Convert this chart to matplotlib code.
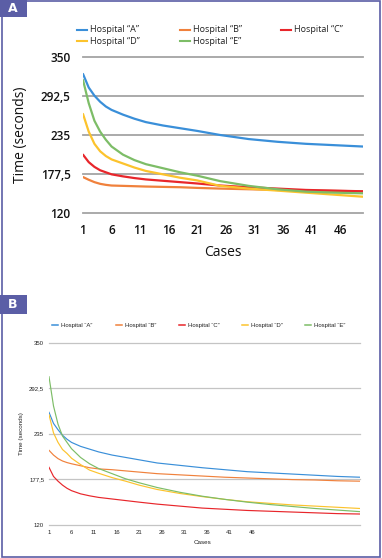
import numpy as np
import matplotlib
matplotlib.use('Agg')
import matplotlib.pyplot as plt
from matplotlib.patches import Rectangle
from matplotlib.lines import Line2D

W, H = 382, 558   # output size in pixels (dpi 100)

hospitals = ['Hospital “A”', 'Hospital “B”', 'Hospital “C”', 'Hospital “D”', 'Hospital “E”']
colors = ['#3a8fd9', '#f0813c', '#e8262b', '#fcc32d', '#7dbd67']

y_ticks = [120, 177.5, 235, 292.5, 350]
y_tick_labels = ['120', '177,5', '235', '292,5', '350']
x_ticks = [1, 6, 11, 16, 21, 26, 31, 36, 41, 46]

# panel A - time per case (seconds)
cases_a = [1, 2, 3, 4, 5, 6, 8, 10, 12, 15, 18, 21, 25, 30, 35, 40, 45, 50]
a_hosp_a = [325, 305, 293, 284, 277, 272, 265, 259, 254, 249, 245, 241, 235, 229, 225, 222, 220, 218]
a_hosp_b = [173, 169, 165.5, 163, 161.5, 160.5, 160, 159.5, 159, 158.5, 158, 157, 156, 155, 154, 153, 152.5, 152]
a_hosp_c = [206, 195, 188, 183, 180, 177, 174, 171.5, 169.5, 167.5, 165.5, 163.5, 160.5, 158, 156, 154, 153, 152]
a_hosp_d = [266, 240, 222, 211, 204, 199, 193, 187, 182, 177, 172, 168, 160, 156, 153, 150, 147, 144]
a_hosp_e = [316, 282, 256, 240, 228, 218, 206, 198, 192, 186, 180, 175, 167, 160, 155, 151.5, 150, 149]

# panel B
cases_b = [1, 2, 3, 4, 5, 6, 8, 10, 12, 15, 18, 21, 25, 30, 35, 40, 45, 50, 55, 60, 65, 70]
b_hosp_a = [262, 248, 240, 233, 228, 224, 219, 215.5, 212, 208, 205, 202, 198, 195, 192, 189.5, 187, 185.5, 184, 182.5, 181, 180]
b_hosp_b = [214, 208, 203.5, 200.5, 198.5, 197, 194.5, 192, 190.5, 189.5, 188, 186.5, 184.5, 183, 181.5, 180, 179, 178, 177, 176.5, 175.5, 175]
b_hosp_c = [192.5, 181, 175, 170, 166, 163, 159, 156.5, 154.5, 152.5, 150.5, 148.5, 146, 143.5, 141, 139.5, 138, 137, 136, 135, 134, 133.5]
b_hosp_d = [259, 236, 224, 215, 210, 204, 196, 189, 185, 179.5, 175, 170, 164.5, 159.5, 155.5, 152, 149, 147, 145, 143.5, 142, 140.5]
b_hosp_e = [307, 270, 247, 232, 224, 216, 205, 197, 191, 184.5, 178, 173, 167, 161, 156, 152, 148.5, 145.5, 143, 140.5, 138.5, 136.5]

series_a = [a_hosp_a, a_hosp_b, a_hosp_c, a_hosp_d, a_hosp_e]
series_b = [b_hosp_a, b_hosp_b, b_hosp_c, b_hosp_d, b_hosp_e]

frame_col = '#5b5ea6'


def px(x, y):
    # pixel position (from top left) -> figure fraction
    return x / W, 1 - y / H


fig = plt.figure(figsize=(W / 100, H / 100), dpi=100)
fig.patch.set_facecolor('white')

# ---------- panel A ----------
fa = 'Open Sans'
ax1 = fig.add_axes([83 / W, 1 - 213 / H, 280 / W, 156 / H])
for vals, c in zip(series_a, colors):
    ax1.plot(cases_a, vals, color=c, lw=1.6, solid_capstyle='round')
ax1.set_xlim(1, 50)
ax1.set_ylim(120, 350)
ax1.set_yticks(y_ticks)
ax1.set_yticklabels(y_tick_labels)
ax1.set_xticks(x_ticks)
ax1.yaxis.grid(True, color='#a4a4a4', lw=1.3)
for gl in ax1.get_ygridlines():
    gl.set_clip_on(False)
ax1.set_axisbelow(True)
for s in ax1.spines.values():
    s.set_visible(False)
ax1.tick_params(length=0, labelsize=8.5, pad=8, labelcolor='#111111')
ax1.tick_params(axis='y', pad=9)
for lab in ax1.get_xticklabels() + ax1.get_yticklabels():
    lab.set_fontfamily(fa)
    lab.set_fontweight('semibold')
ax1.set_xlabel('Cases', fontsize=10, family=fa, va='center', color='#111111')
ax1.xaxis.set_label_coords(0.5, -0.256)
ax1.set_ylabel('Time (seconds)', fontsize=10, family=fa, va='center', color='#111111')
ax1.yaxis.set_label_coords((21 - 83) / 280, 0.5)

# legend A, row-wise like the original
leg_cols = [77, 180, 281]
leg_rows = [30, 41]
for i, (name, c) in enumerate(zip(hospitals, colors)):
    x0 = leg_cols[i % 3]
    y0 = leg_rows[i // 3]
    (xa, ya), (xb, _) = px(x0, y0), px(x0 + 10, y0)
    fig.add_artist(Line2D([xa, xb], [ya, ya], color=c, lw=1.5, transform=fig.transFigure))
    fig.text(*px(x0 + 13, y0), name, fontsize=6.5, family=fa, va='center', ha='left', color='#222222')

# ---------- panel B ----------
fb = 'Liberation Sans'
ax2 = fig.add_axes([49 / W, 1 - 524.7 / H, 311 / W, 182 / H])
for vals, c in zip(series_b, colors):
    ax2.plot(cases_b, vals, color=c, lw=0.85)
ax2.set_xlim(1, 70)
ax2.set_ylim(120, 350)
ax2.set_yticks(y_ticks)
ax2.set_yticklabels(y_tick_labels)
ax2.set_xticks(x_ticks)
ax2.yaxis.grid(True, color='#c4c4c4', lw=0.9)
for gl in ax2.get_ygridlines():
    gl.set_clip_on(False)
ax2.set_axisbelow(True)
for s in ax2.spines.values():
    s.set_visible(False)
ax2.tick_params(length=0, labelsize=4.3, pad=3.5, labelcolor='#222222')
for lab in ax2.get_xticklabels() + ax2.get_yticklabels():
    lab.set_fontfamily(fb)
ax2.set_xlabel('Cases', fontsize=4.5, family=fb, va='center', color='#222222')
ax2.xaxis.set_label_coords(0.495, -0.1)
ax2.set_ylabel('Time (seconds)', fontsize=4.5, family=fb, va='center', color='#222222')
ax2.yaxis.set_label_coords((22 - 49) / 311, 0.5)

# legend B, single row
leg_cols_b = [52, 116, 179, 242, 305]
for name, c, x0 in zip(hospitals, colors, leg_cols_b):
    (xa, ya), (xb, _) = px(x0, 325), px(x0 + 6, 325)
    fig.add_artist(Line2D([xa, xb], [ya, ya], color=c, lw=1.1, transform=fig.transFigure))
    fig.text(*px(x0 + 9, 325), name, fontsize=4.3, family=fb, va='center', ha='left', color='#222222')

# ---------- frame and panel badges ----------
x0, y0 = px(2, 557)
x1, y1 = px(380, 1)
fig.add_artist(Rectangle((x0, y0), x1 - x0, y1 - y0, transform=fig.transFigure,
                         fill=False, edgecolor=frame_col, lw=1.2))
for letter, top, bottom in [('A', 0, 17), ('B', 295, 314)]:
    bx, by = px(0, bottom)
    fig.add_artist(Rectangle((bx, by), 27 / W, (bottom - top) / H, transform=fig.transFigure,
                             facecolor=frame_col, edgecolor='none'))
    fig.text(*px(13, (top + bottom) / 2), letter, color='white', fontsize=9,
             fontweight='bold', family='DejaVu Sans', ha='center', va='center')

fig.savefig('out.png', dpi=100)
